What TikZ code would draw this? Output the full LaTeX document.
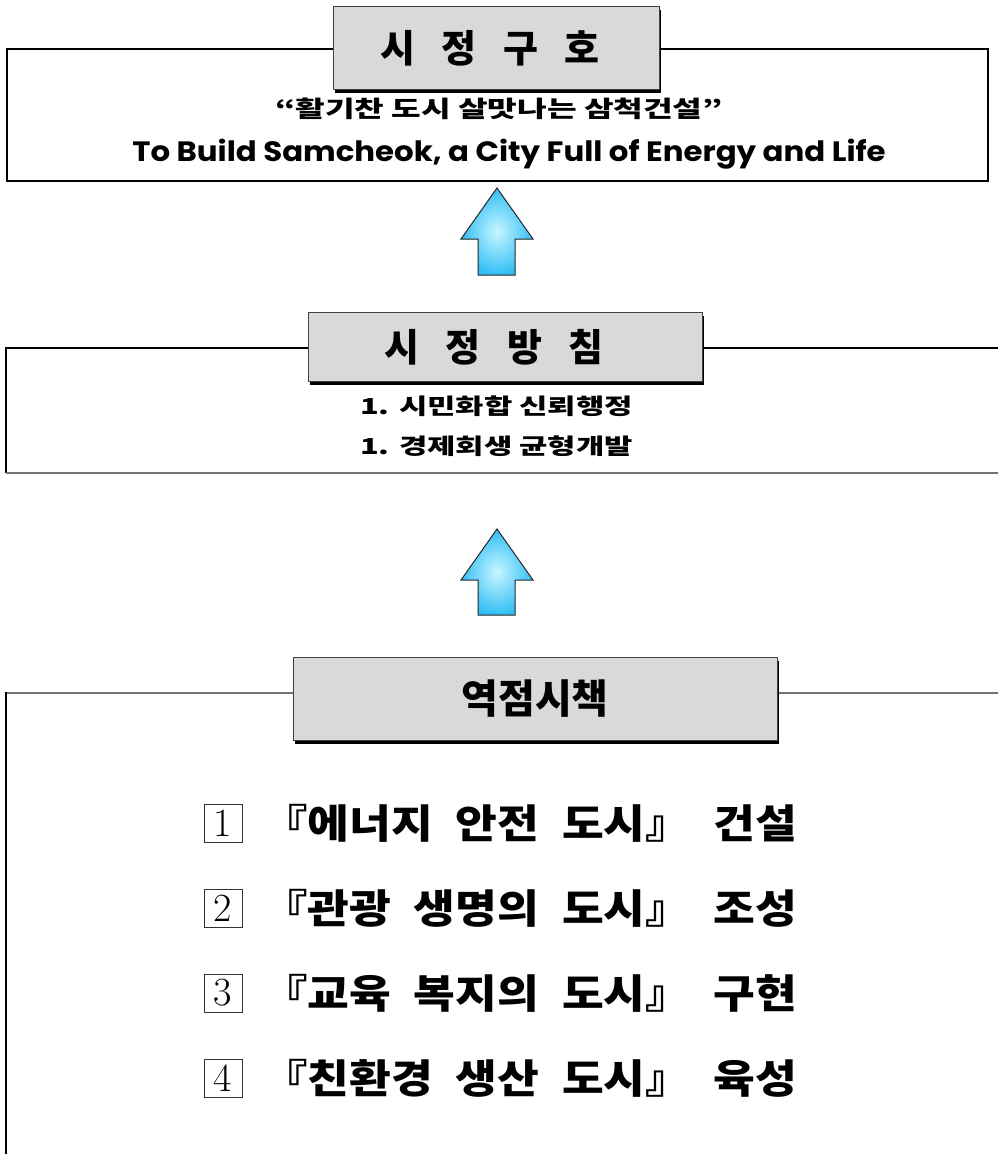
\documentclass[tikz,border=0pt]{standalone}
\usepackage{fontspec}
\usepackage{tikz}
\usetikzlibrary{positioning, shadows}
\newfontfamily\krhead{Noto Sans CJK KR}[WordSpace=3.0]
\newfontfamily\krwide{Noto Sans CJK KR}[FakeStretch=1.4]
\newfontfamily\krlist{Noto Sans CJK KR}[WordSpace=2.2, FakeStretch=1.135]
\newfontfamily\enfont{Poppins}[FakeStretch=1.1]
\definecolor{arrowlight}{RGB}{200,246,255}
\definecolor{arrowdark}{RGB}{50,190,245}

\begin{document}
\begin{tikzpicture}[x=1pt, y=-1pt,
		titlebox/.style={draw=black!75, line width=1pt, fill=black!15, inner sep=0pt,
			drop shadow={shadow xshift=2pt, shadow yshift=-3pt, fill=black, opacity=1}},
		numbox/.style={draw=black!80, line width=0.8pt, minimum size=38pt, inner sep=0pt},
		blockarrow/.style={draw=black!85, line width=1pt, inner color=arrowlight, outer color=arrowdark},
		frameline/.style={black, line width=1.2pt}]
	\useasboundingbox (0,0) rectangle (998,1154);
	% frames
	\draw[frameline] (7,49) rectangle (988,181);
	\draw[frameline] (998,348) -- (6,348) -- (6,473);
	\draw[black!55, line width=2pt] (6,473) -- (998,473);
	\draw[black!55, line width=2pt] (998,693) -- (6,693);
	\draw[frameline] (6,692) -- (6,1154);
	% titles
	\node at (496,48) (slogan) [titlebox, minimum width=326pt, minimum height=83pt] {\krhead\bfseries\fontsize{38}{40}\selectfont 시 정 구 호\hspace*{12pt}};
	\node at (505,347) (policy) [titlebox, minimum width=394pt, minimum height=69pt] {\krhead\bfseries\fontsize{38}{40}\selectfont 시 정 방 침\hspace*{22pt}};
	\node at (535,699) (focus) [titlebox, minimum width=484pt, minimum height=83pt] {\krhead\bfseries\fontsize{40}{42}\selectfont 역점시책};
	% texts
	\node at (499,109) (kor) {\krwide\bfseries\fontsize{23}{26}\selectfont “활기찬 도시 살맛나는 삼척건설”};
	\node at (509,154) (eng) {\enfont\bfseries\fontsize{28}{30}\selectfont To Build Samcheok, a City Full of Energy and Life};
	\node at (360,406) (p1) [anchor=west, inner sep=0pt] {\krwide\bfseries\fontsize{22}{24}\selectfont 1. 시민화합 신뢰행정};
	\node at (360,446) (p2) [anchor=west, inner sep=0pt] {\krwide\bfseries\fontsize{22}{24}\selectfont 1. 경제회생 균형개발};
	% arrows
	\foreach \ty/\hl/\sl in {188/51/36, 529/51/35}
		\path[blockarrow] (497,\ty) -- ++(36,\hl) -- ++(-18,0) -- ++(0,\sl) -- ++(-37,0) -- ++(0,-\sl) -- ++(-17,0) -- cycle;
	% list
	\foreach \n/\txt [count=\i from 0] in {1/『에너지 안전 도시』 건설, 2/『관광 생명의 도시』 조성, 3/『교육 복지의 도시』 구현, 4/『친환경 생산 도시』 육성} {
		\node at (223,823+85*\i) (n\n) [numbox] {\rmfamily\fontsize{40}{40}\selectfont \n};
		\node at (262,823+85*\i) (item\n) [anchor=west, inner sep=0pt] {\krlist\bfseries\fontsize{40}{44}\selectfont \txt};
	}
\end{tikzpicture}
\end{document}
